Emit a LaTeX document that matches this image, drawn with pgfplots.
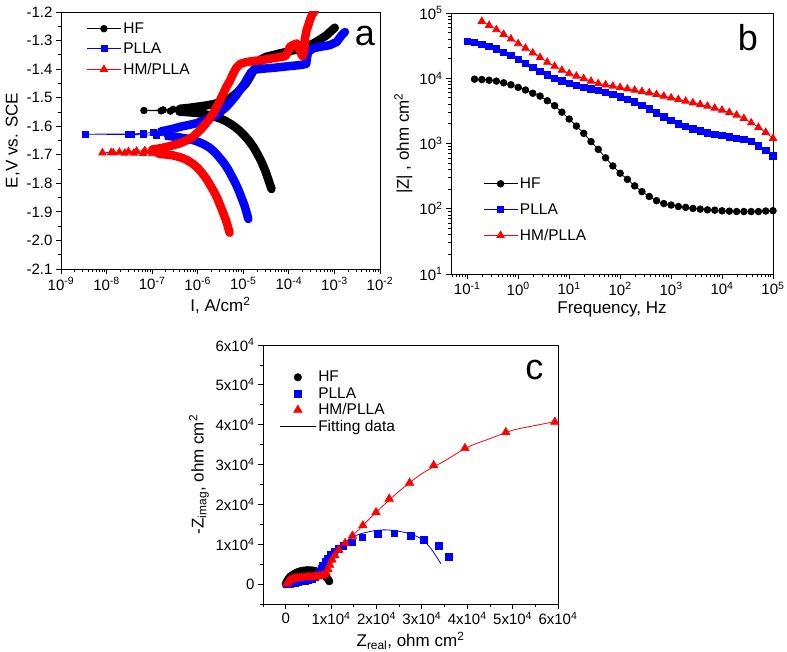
\documentclass[border=0pt]{standalone}
\usepackage{fontspec}
\setmainfont{Liberation Sans}
\usepackage{pgfplots}
\usepackage{pgfplotstable}
\pgfplotsset{compat=1.18}

% ---------- panel a : polarisation curves ----------
\pgfplotstableread{
I E
4.17e-5 -1.820
3.55e-5 -1.787
3.02e-5 -1.755
2.51e-5 -1.725
2.09e-5 -1.700
1.70e-5 -1.675
1.35e-5 -1.652
1.05e-5 -1.632
7.94e-6 -1.613
5.89e-6 -1.597
4.27e-6 -1.583
3.02e-6 -1.572
2.09e-6 -1.564
1.41e-6 -1.558
1.00e-6 -1.554
6.31e-7 -1.551
3.98e-7 -1.549
}\HFcat
\pgfplotstableread{
I E
3.98e-7 -1.549
2.51e-7 -1.547
1.58e-7 -1.546
6.61e-8 -1.545
1.74e-7 -1.543
2.88e-7 -1.541
4.07e-7 -1.539
}\HFmid
\pgfplotstableread{
I E
4.07e-7 -1.539
6.31e-7 -1.536
9.55e-7 -1.532
1.45e-6 -1.528
2.19e-6 -1.523
3.16e-6 -1.516
4.27e-6 -1.509
5.62e-6 -1.497
7.08e-6 -1.485
8.71e-6 -1.470
1.07e-5 -1.456
1.26e-5 -1.440
1.48e-5 -1.420
1.74e-5 -1.400
2.09e-5 -1.380
2.51e-5 -1.365
3.31e-5 -1.356
4.57e-5 -1.351
6.31e-5 -1.345
8.91e-5 -1.340
1.26e-4 -1.334
1.74e-4 -1.328
2.51e-4 -1.320
3.39e-4 -1.311
4.79e-4 -1.297
6.76e-4 -1.281
8.51e-4 -1.266
1.02e-3 -1.255
}\HFan
\pgfplotstableread{
I E
1.29e-5 -1.925
1.17e-5 -1.900
1.05e-5 -1.875
9.12e-6 -1.850
7.94e-6 -1.825
6.76e-6 -1.800
5.62e-6 -1.776
4.68e-6 -1.752
3.80e-6 -1.730
3.02e-6 -1.710
2.40e-6 -1.692
1.82e-6 -1.675
1.32e-6 -1.662
8.91e-7 -1.651
5.62e-7 -1.643
3.55e-7 -1.638
2.24e-7 -1.634
}\PLcat
\pgfplotstableread{
I E
2.24e-7 -1.634
1.26e-7 -1.632
6.31e-8 -1.630
3.02e-8 -1.629
3.39e-9 -1.628
3.55e-8 -1.627
6.31e-8 -1.625
1.05e-7 -1.622
1.58e-7 -1.618
}\PLmid
\pgfplotstableread{
I E
1.58e-7 -1.618
2.09e-7 -1.614
3.02e-7 -1.608
4.07e-7 -1.602
6.31e-7 -1.596
9.55e-7 -1.589
1.45e-6 -1.579
2.19e-6 -1.567
3.02e-6 -1.552
4.27e-6 -1.532
5.50e-6 -1.512
7.08e-6 -1.491
8.71e-6 -1.470
1.07e-5 -1.450
1.26e-5 -1.430
1.48e-5 -1.412
1.78e-5 -1.402
2.51e-5 -1.399
3.55e-5 -1.397
5.01e-5 -1.395
7.41e-5 -1.392
1.12e-4 -1.389
1.74e-4 -1.386
2.40e-4 -1.382
2.51e-4 -1.360
2.63e-4 -1.340
3.39e-4 -1.328
4.79e-4 -1.322
6.31e-4 -1.319
7.94e-4 -1.316
1.12e-3 -1.305
1.45e-3 -1.281
1.70e-3 -1.270
}\PLan
\pgfplotstableread{
I E
5.01e-6 -1.973
4.57e-6 -1.950
4.07e-6 -1.925
3.55e-6 -1.900
3.09e-6 -1.876
2.69e-6 -1.852
2.29e-6 -1.830
1.91e-6 -1.808
1.58e-6 -1.786
1.26e-6 -1.765
1.00e-6 -1.746
7.59e-7 -1.730
5.62e-7 -1.717
3.98e-7 -1.708
2.82e-7 -1.702
2.00e-7 -1.699
1.41e-7 -1.697
}\HMcat
\pgfplotstableread{
I E
1.41e-7 -1.697
1.00e-7 -1.696
6.31e-8 -1.695
3.98e-8 -1.694
2.51e-8 -1.694
1.41e-8 -1.693
8.13e-9 -1.693
1.26e-8 -1.692
1.91e-8 -1.691
3.02e-8 -1.689
4.57e-8 -1.687
6.92e-8 -1.685
1.00e-7 -1.682
}\HMmid
\pgfplotstableread{
I E
1.00e-7 -1.682
1.41e-7 -1.678
2.00e-7 -1.673
2.82e-7 -1.667
4.07e-7 -1.660
5.62e-7 -1.650
7.94e-7 -1.637
1.02e-6 -1.620
1.32e-6 -1.602
1.70e-6 -1.580
2.19e-6 -1.555
2.63e-6 -1.532
3.09e-6 -1.509
3.63e-6 -1.486
4.27e-6 -1.462
5.13e-6 -1.440
6.03e-6 -1.415
7.08e-6 -1.395
8.51e-6 -1.382
1.12e-5 -1.376
1.58e-5 -1.372
2.29e-5 -1.369
3.16e-5 -1.366
4.47e-5 -1.362
6.31e-5 -1.358
8.32e-5 -1.355
9.55e-5 -1.340
1.05e-4 -1.322
1.26e-4 -1.315
1.48e-4 -1.310
1.74e-4 -1.335
2.00e-4 -1.355
2.19e-4 -1.330
2.24e-4 -1.295
2.45e-4 -1.264
2.69e-4 -1.245
2.88e-4 -1.229
3.24e-4 -1.210
3.72e-4 -1.194
4.17e-4 -1.170
}\HMan

% ---------- panel b : Bode |Z| ----------
\pgfplotstableread{
f Z
0.1389 9680
0.1931 9550
0.2683 9330
0.3728 9040
0.5179 8510
0.7197 7940
1 7240
1.389 6610
1.931 5890
2.683 5330
3.728 4520
5.179 3800
7.197 3020
10 2370
13.89 1850
19.31 1430
26.83 1070
37.28 813
51.79 603
71.97 453
100 350
138.9 282
193.1 224
268.3 183
372.8 154
517.9 133
719.7 120
1000 114
1389 108
1931 105
2683 101
3728 98.6
5179 96.2
7197 95.1
10000 92.9
13895 91.8
19307 90.6
26827 90.6
37276 90.6
51795 90.6
71969 92.3
100000 93.3
}\BHF
\pgfplotstableread{
f Z
0.1 36900
0.1389 35200
0.1931 33200
0.2683 31000
0.3728 28200
0.5179 25100
0.7197 22300
1 19400
1.389 16800
1.931 14600
2.683 12700
3.728 11300
5.179 10000
7.197 9140
10 8410
13.89 7750
19.31 7310
26.83 6890
37.28 6500
51.79 6060
71.97 5650
100 5200
138.9 4790
193.1 4310
268.3 3840
372.8 3370
517.9 2960
719.7 2570
1000 2260
1389 2010
1931 1810
2683 1670
3728 1550
5179 1460
7197 1380
10000 1320
13895 1260
19307 1200
26827 1150
37276 1070
51795 916
71969 777
100000 644
}\BPL
\pgfplotstableread{
f Z
0.1931 74700
0.2683 64800
0.3728 55700
0.5179 47200
0.7197 40100
1 34000
1.389 28900
1.931 24500
2.683 20800
3.728 17600
5.179 15300
7.197 13300
10 11800
13.89 10800
19.31 9910
26.83 9030
37.28 8320
51.79 7940
71.97 7570
100 7220
138.9 6890
193.1 6580
268.3 6280
372.8 5990
517.9 5650
719.7 5330
1000 5020
1389 4730
1931 4470
2683 4210
3728 3970
5179 3740
7197 3490
10000 3250
13895 3000
19307 2730
26827 2430
37276 2080
51795 1770
71969 1480
100000 1200
}\BHM

% ---------- panel c : Nyquist ----------
\pgfplotstableread{
x y
0 0
100 400
300 800
500 1200
800 1600
1100 2000
1500 2300
1900 2600
2400 2900
2900 3100
3400 3300
4000 3400
4600 3500
5200 3500
5800 3450
6300 3350
6800 3200
7200 3000
7600 2800
8000 2500
8400 2200
8800 1900
9100 1500
9400 1100
9600 700
}\NHF
\pgfplotstableread{
x y
200 0
600 100
1000 100
1500 200
2000 300
2700 500
3400 700
4200 900
5000 1100
5800 1400
6500 1800
7000 2400
7400 3100
7800 3900
8200 4700
8700 5600
9200 6400
9900 7300
10700 8100
11600 8900
12700 9600
14600 10500
16900 11800
20300 12600
23900 12800
27500 12200
30400 11100
33700 9600
35900 6900
}\NPL
\pgfplotstableread{
x y
200 100
500 500
800 900
1200 1100
1600 1300
2000 1400
2500 1500
3000 1550
3500 1600
4000 1650
4500 1700
5000 1700
5500 1750
6000 1800
6500 1850
7000 1900
7500 2000
8000 2100
8500 2300
8900 2800
9300 3700
9700 4800
10200 6100
10850 7200
11700 8600
13100 10300
14700 12100
17000 14700
19900 18000
22800 21400
27300 25400
32600 29800
39500 34100
48500 38100
59300 40700
}\NHM
\pgfplotstableread{
x y
0 0
300 800
1000 1700
2000 2400
3500 2900
5000 3000
6500 2800
7500 2400
8500 1700
9300 1000
9600 500
}\FHF
\pgfplotstableread{
x y
0 0
500 700
1500 1200
3000 1500
5000 1700
6500 2000
7500 3000
8500 4700
9800 6900
11900 9400
15300 12100
18600 13200
21400 13600
24100 13400
27500 12600
30200 11100
32200 8600
34200 5100
}\FPL
\pgfplotstableread{
x y
0 0
1000 1000
3000 1500
6000 1700
8500 2000
9500 3500
10500 6000
12000 8800
15000 12400
20000 18100
25000 23300
30000 27700
35000 30900
40000 34300
45000 36500
50000 38600
55000 39800
59500 40800
}\FHM

\pgfplotsset{
  myaxis/.style={
    scale only axis,
    anchor=south west,
    axis line style={line width=0.9pt},
    tick align=outside,
    xtick pos=left, ytick pos=left,
    major tick length=5pt, minor tick length=3pt,
    every tick/.style={black, line width=0.8pt},
    tick label style={font=\fontsize{15}{17}\selectfont},
    label style={font=\fontsize{17}{19}\selectfont},
    legend style={draw=none, fill=none, font=\fontsize{15.5}{17}\selectfont},
    legend cell align=left,
    /pgf/number format/assume math mode=true,
    scaled ticks=false,
  },
  band/.style={line width=8.5pt, line join=round, line cap=round, forget plot},
}

\begin{document}
\begin{tikzpicture}
\path[use as bounding box] (0pt,0pt) rectangle (787pt,652pt);

% ===================== (a) =====================
\begin{axis}[myaxis, at={(61pt,383pt)}, width=319pt, height=257pt,
  xmode=log, xmin=1e-9, xmax=1e-2, ymin=-2.1, ymax=-1.2,
  xtick={1e-9,1e-8,1e-7,1e-6,1e-5,1e-4,1e-3,1e-2},
  xticklabels={10\textsuperscript{-9},10\textsuperscript{-8},10\textsuperscript{-7},10\textsuperscript{-6},10\textsuperscript{-5},10\textsuperscript{-4},10\textsuperscript{-3},10\textsuperscript{-2}},
  minor xtick={2e-9,3e-9,4e-9,5e-9,6e-9,7e-9,8e-9,9e-9,2e-8,3e-8,4e-8,5e-8,6e-8,7e-8,8e-8,9e-8,2e-7,3e-7,4e-7,5e-7,6e-7,7e-7,8e-7,9e-7,2e-6,3e-6,4e-6,5e-6,6e-6,7e-6,8e-6,9e-6,2e-5,3e-5,4e-5,5e-5,6e-5,7e-5,8e-5,9e-5,2e-4,3e-4,4e-4,5e-4,6e-4,7e-4,8e-4,9e-4,2e-3,3e-3,4e-3,5e-3,6e-3,7e-3,8e-3,9e-3},
  ytick={-2.1,-2.0,-1.9,-1.8,-1.7,-1.6,-1.5,-1.4,-1.3,-1.2},
  yticklabels={-2.1,-2.0,-1.9,-1.8,-1.7,-1.6,-1.5,-1.4,-1.3,-1.2},
  minor ytick={-2.05,-1.95,-1.85,-1.75,-1.65,-1.55,-1.45,-1.35,-1.25},
  xlabel={I, A/cm\textsuperscript{2}}, ylabel={E,V vs. SCE},
  legend style={at={(0.07,0.975)}, anchor=north west, row sep=4pt},
  legend image code/.code={\draw[mark repeat=2,mark phase=2,#1] plot coordinates {(0pt,0pt) (17pt,0pt) (34pt,0pt)};},
]
\addplot[black, band] table {\HFcat};
\addplot[black, band] table {\HFan};
\addplot[black, line width=0.8pt, mark=*, mark size=3.3pt] table {\HFmid};
\addlegendentry{HF}
\addplot[blue, band] table {\PLcat};
\addplot[blue, band] table {\PLan};
\addplot[blue, line width=0.8pt, mark=square*, mark size=3pt] table {\PLmid};
\addlegendentry{PLLA}
\addplot[red, band] table {\HMcat};
\addplot[red, band] table {\HMan};
\addplot[red, line width=0.8pt, mark=triangle*, mark size=4.2pt] table {\HMmid};
\addlegendentry{HM/PLLA}
\node[font=\fontsize{36}{40}\selectfont] at (rel axis cs:0.953,0.905) {a};
\end{axis}

% ===================== (b) =====================
\begin{axis}[myaxis, at={(451pt,378pt)}, width=322pt, height=261pt,
  xmode=log, ymode=log, xmin=0.048, xmax=1e5, ymin=10, ymax=1e5,
  xtick={0.1,1,10,100,1000,10000,100000},
  xticklabels={10\textsuperscript{-1},10\textsuperscript{0},10\textsuperscript{1},10\textsuperscript{2},10\textsuperscript{3},10\textsuperscript{4},10\textsuperscript{5}},
  minor xtick={0.05,0.06,0.07,0.08,0.09,0.2,0.3,0.4,0.5,0.6,0.7,0.8,0.9,2,3,4,5,6,7,8,9,20,30,40,50,60,70,80,90,200,300,400,500,600,700,800,900,2000,3000,4000,5000,6000,7000,8000,9000,20000,30000,40000,50000,60000,70000,80000,90000},
  ytick={10,100,1000,10000,100000},
  yticklabels={10\textsuperscript{1},10\textsuperscript{2},10\textsuperscript{3},10\textsuperscript{4},10\textsuperscript{5}},
  minor ytick={20,30,40,50,60,70,80,90,200,300,400,500,600,700,800,900,2000,3000,4000,5000,6000,7000,8000,9000,20000,30000,40000,50000,60000,70000,80000,90000},
  xlabel={Frequency, Hz}, ylabel={|Z| , ohm cm\textsuperscript{2}},
  legend style={at={(0.09,0.385)}, anchor=north west, row sep=9.5pt},
  legend image code/.code={\draw[mark repeat=2,mark phase=2,#1] plot coordinates {(0pt,0pt) (17pt,0pt) (34pt,0pt)};},
]
\addplot[black, line width=0.8pt, mark=*, mark size=3.3pt] table {\BHF};
\addlegendentry{HF}
\addplot[blue, line width=0.8pt, mark=square*, mark size=3.2pt] table {\BPL};
\addlegendentry{PLLA}
\addplot[red, line width=0.8pt, mark=triangle*, mark size=4.2pt] table {\BHM};
\addlegendentry{HM/PLLA}
\node[font=\fontsize{36}{40}\selectfont] at (rel axis cs:0.922,0.905) {b};
\end{axis}

% ===================== (c) =====================
\begin{axis}[myaxis, at={(263pt,48pt)}, width=295pt, height=259pt,
  xmin=-5000, xmax=60000, ymin=-5000, ymax=60000,
  xtick={0,10000,20000,30000,40000,50000,60000},
  xticklabels={0,1x10\textsuperscript{4},2x10\textsuperscript{4},3x10\textsuperscript{4},4x10\textsuperscript{4},5x10\textsuperscript{4},6x10\textsuperscript{4}},
  minor xtick={-5000,5000,15000,25000,35000,45000,55000},
  ytick={0,10000,20000,30000,40000,50000,60000},
  yticklabels={0,1x10\textsuperscript{4},2x10\textsuperscript{4},3x10\textsuperscript{4},4x10\textsuperscript{4},5x10\textsuperscript{4},6x10\textsuperscript{4}},
  minor ytick={-5000,5000,15000,25000,35000,45000,55000},
  xlabel={Z\textsubscript{real}, ohm cm\textsuperscript{2}},
  ylabel={-Z\textsubscript{imag}, ohm cm\textsuperscript{2}},
  legend style={at={(0.045,0.915)}, anchor=north west, row sep=0pt},
  legend image code/.code={\draw[mark repeat=2,mark phase=2,#1] plot coordinates {(0pt,0pt) (18pt,0pt) (36pt,0pt)};},
]
\addplot[black, only marks, mark=*, mark size=3.8pt] table {\NHF};
\addlegendentry{HF}
\addplot[blue, only marks, mark=square*, mark size=3.3pt] table {\NPL};
\addlegendentry{PLLA}
\addplot[red, only marks, mark=triangle*, mark size=5pt] table {\NHM};
\addlegendentry{HM/PLLA}
\addplot[black, line width=0.8pt, smooth] table {\FHF};
\addlegendentry{Fitting data}
\addplot[blue, line width=0.8pt, smooth, forget plot] table {\FPL};
\addplot[red, line width=0.8pt, smooth, forget plot] table {\FHM};
\node[font=\fontsize{36}{40}\selectfont] at (rel axis cs:0.92,0.905) {c};
\end{axis}
\end{tikzpicture}
\end{document}
